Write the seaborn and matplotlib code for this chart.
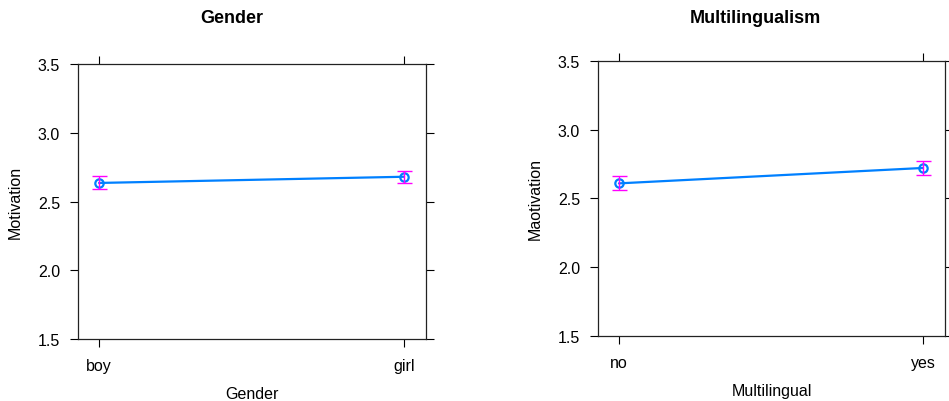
import matplotlib
matplotlib.use("Agg")
import matplotlib.pyplot as plt
import seaborn as sns

# effect estimates
gender_levels = ["boy", "girl"]
gender_fit = [2.635, 2.680]
gender_lower = [2.590, 2.635]
gender_upper = [2.685, 2.725]

multi_levels = ["no", "yes"]
multi_fit = [2.610, 2.722]
multi_lower = [2.560, 2.672]
multi_upper = [2.660, 2.773]

yticks = [1.5, 2.0, 2.5, 3.0, 3.5]

sns.set_style("white")
plt.rcParams["font.family"] = ["Liberation Sans", "DejaVu Sans"]
plt.rcParams["text.color"] = "black"
plt.rcParams["axes.labelcolor"] = "black"
plt.rcParams["xtick.color"] = "black"
plt.rcParams["ytick.color"] = "black"

LINE = "#0080ff"
BAR = "#ff00ff"

fig = plt.figure(figsize=(9.49, 4.02), dpi=100)
ax1 = fig.add_axes([0.0822, 0.1542, 0.3667, 0.6841])
ax2 = fig.add_axes([0.6301, 0.1617, 0.3656, 0.6841])


def effect_panel(ax, levels, fit, lower, upper, title, xlabel, ylabel, title_x):
    sns.lineplot(x=levels, y=fit, ax=ax, color=LINE, lw=1.6, marker="o",
                 markersize=6, markerfacecolor="none", markeredgecolor=LINE,
                 markeredgewidth=1.6)
    err = [[f - lo for f, lo in zip(fit, lower)], [hi - f for f, hi in zip(fit, upper)]]
    ax.errorbar(range(len(levels)), fit, yerr=err, fmt="none", ecolor=BAR,
                elinewidth=1.0, capsize=5.4, capthick=1.0)
    ax.set_xlim(-0.069, 1.072)
    ax.set_ylim(1.5, 3.5)
    ax.set_xticks(range(len(levels)))
    ax.set_xticklabels(levels)
    ax.set_yticks(yticks)
    ax.set_yticklabels([f"{v:.1f}" for v in yticks])
    ax.tick_params(axis="both", which="both", direction="out", length=6,
                   width=0.8, color="black", labelsize=11.5, labelcolor="black",
                   top=True, right=True, left=True, bottom=True,
                   labeltop=False, labelright=False)
    ax.tick_params(axis="x", pad=8)
    ax.tick_params(axis="y", pad=7)
    for s in ax.spines.values():
        s.set_visible(True)
        s.set_color("#222222")
        s.set_linewidth(0.9)
    ax.set_xlabel(xlabel, fontsize=11.5, labelpad=9, color="black")
    ax.set_ylabel(ylabel, fontsize=11.5, labelpad=11, color="black")
    fig.text(title_x, 0.955, title, ha="center", va="center",
             fontsize=13, fontweight="bold", color="black")


effect_panel(ax1, gender_levels, gender_fit, gender_lower, gender_upper,
             "Gender", "Gender", "Motivation", 232 / 949)
effect_panel(ax2, multi_levels, multi_fit, multi_lower, multi_upper,
             "Multilingualism", "Multilingual", "Maotivation", 755 / 949)

fig.savefig("out.png", dpi=100)
